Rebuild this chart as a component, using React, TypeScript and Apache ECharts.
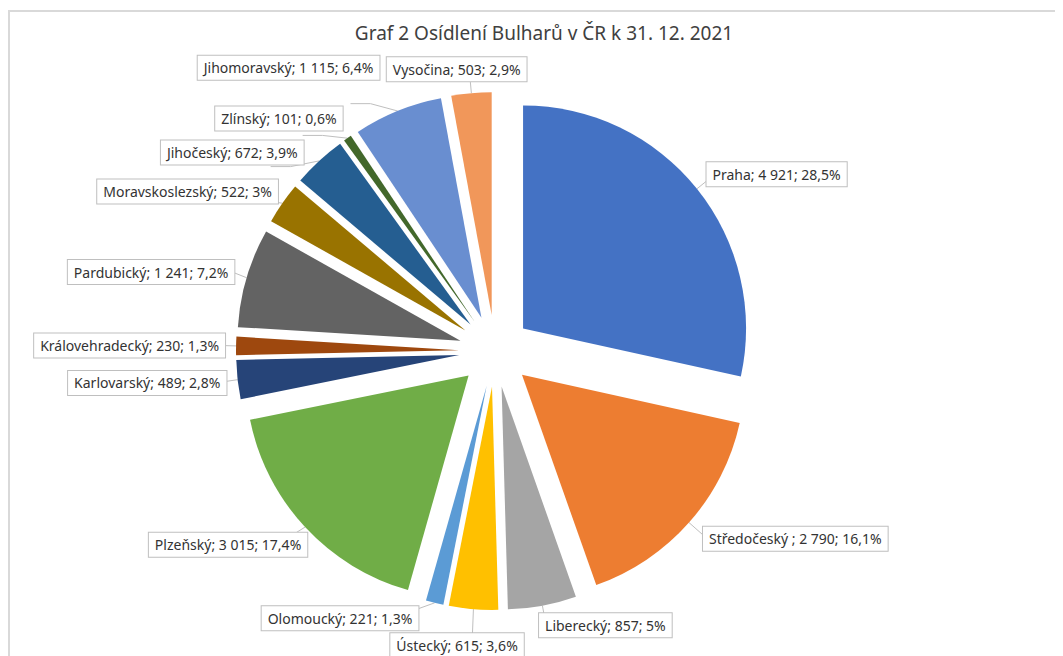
import React, { useEffect, useRef } from "react";
import * as echarts from "echarts";

const regions = [
  "Praha",
  "Středočeský ",
  "Liberecký",
  "Ústecký",
  "Olomoucký",
  "Plzeňský",
  "Karlovarský",
  "Královehradecký",
  "Pardubický",
  "Moravskoslezský",
  "Jihočeský",
  "Zlínský",
  "Jihomoravský",
  "Vysočina",
];
const counts = [4921, 2790, 857, 615, 221, 3015, 489, 230, 1241, 522, 672, 101, 1115, 503];
const colors = [
  "#4472C4", "#ED7D31", "#A5A5A5", "#FFC000", "#5B9BD5", "#70AD47", "#264478",
  "#9E480E", "#636363", "#997300", "#255E91", "#43682B", "#698ED0", "#F1975A",
];
const titleText = "Graf 2 Osídlení Bulharů v ČR k 31. 12. 2021";

// label nudges (layout only, not data)
const labelDx = [-31, -26, -32, 77, 63, 49, 29, 29, 27, 38, 38, 45, 34, 82];
const labelDy = [-2, 3, 0, -6, -4, 4, 1, 0, 0, -9, -14, -17, -36, -4];

const total = counts.reduce((a, b) => a + b, 0);
const fmtNum = (v: number) => String(v).replace(/\B(?=(\d{3})+(?!\d))/g, " ");
const fmtPct = (v: number) => {
  const s = ((v / total) * 100).toFixed(1).replace(/\.0$/, "").replace(".", ",");
  return s + "%";
};

export default function App() {
  const ref = useRef<HTMLDivElement>(null);
  useEffect(() => {
    if (!ref.current) return;
    const chart = echarts.init(ref.current, undefined, { renderer: "svg" });
    chart.setOption({
      animation: false,
      title: {
        text: titleText,
        left: 531,
        textAlign: "center",
        top: 10,
        textStyle: { fontFamily: "Noto Sans", fontSize: 19, fontWeight: "normal", color: "#404040" },
      },
      series: [
        {
          type: "pie",
          center: [487, 343],
          radius: 223,
          startAngle: 90,
          clockwise: true,
          selectedMode: "multiple",
          selectedOffset: 36,
          data: regions.map((name, i) => ({
            name,
            value: counts[i],
            selected: true,
            itemStyle: { color: colors[i] },
          })),
          itemStyle: { borderWidth: 0 },
          select: { itemStyle: { borderWidth: 0 } },
          emphasis: { disabled: true },
          label: {
            show: true,
            position: "outside",
            formatter: (p: any) => `${p.name}; ${fmtNum(p.value)}; ${fmtPct(p.value)}`,
            fontFamily: "Noto Sans",
            fontSize: 14,
            color: "#333333",
            backgroundColor: "#fff",
            borderColor: "#BFBFBF",
            borderWidth: 1,
            padding: [5, 6],
          },
          labelLine: {
            show: true,
            length: 20,
            length2: 20,
            lineStyle: { color: "#BFBFBF", width: 1 },
          },
          labelLayout: (p: any) => ({
            dx: labelDx[p.dataIndex],
            dy: labelDy[p.dataIndex],
          }),
        },
      ],
    });
    return () => chart.dispose();
  }, []);
  return (
    <div style={{ position: "relative", width: 1055, height: 648 }}>
      <div
        style={{
          position: "absolute",
          left: 0,
          top: 2,
          width: 1060,
          height: 660,
          borderLeft: "2px solid #D9D9D9",
          borderTop: "2px solid #D9D9D9",
          boxSizing: "border-box",
        }}
      />
      <div ref={ref} style={{ position: "absolute", left: 0, top: 0, width: 1055, height: 648 }} />
    </div>
  );
}
